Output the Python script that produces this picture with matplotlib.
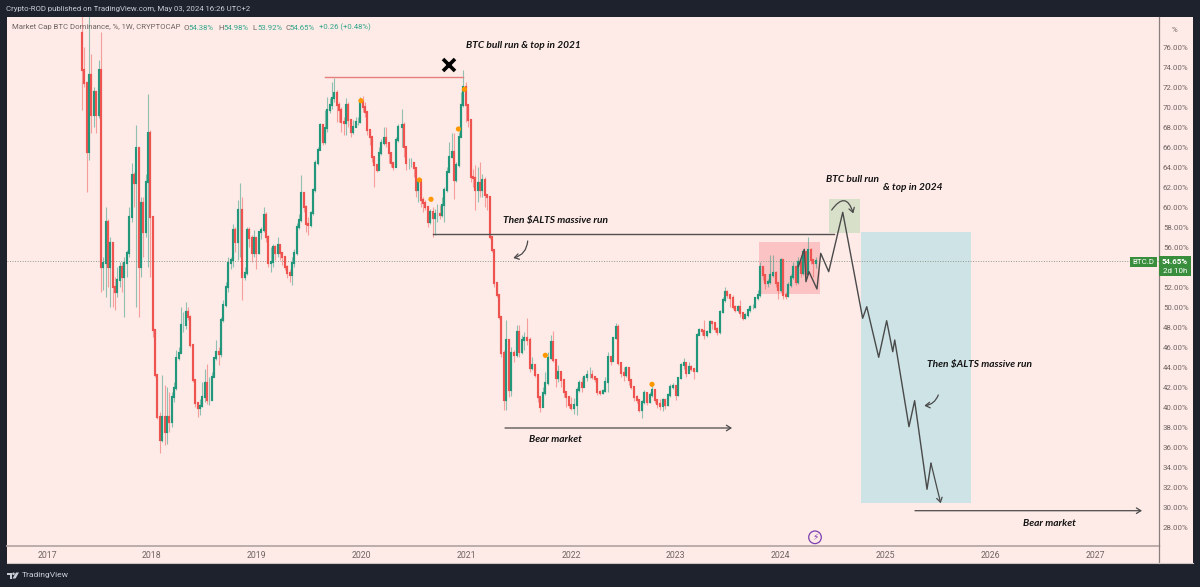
"""
BTC dominance weekly chart with the projected path, drawn like the TradingView snapshot.
Candle values are read off the picture by eye, in percent.
"""

import numpy as np
import matplotlib
matplotlib.use('Agg')
import matplotlib.pyplot as plt
from matplotlib.patches import Rectangle, Polygon, Circle

W, H = 1200, 587

# weekly candles; each open is the previous close
FIRST_OPEN = 77.4
closes = [
    73.7, 72.4, 65.5, 73.2, 69.2, 71.5, 69.2, 73.7, 54.0, 54.4,
    58.5, 54.0, 56.4, 52.0, 51.5, 52.7, 54.0, 53.0, 54.4, 55.4,
    59.0, 63.2, 62.4, 65.9, 54.0, 60.4, 57.5, 62.5, 67.4, 59.0,
    47.7, 43.2, 39.0, 36.7, 39.0, 37.5, 39.0, 38.5, 41.0, 41.9,
    44.9, 45.4, 48.2, 48.2, 49.5, 49.0, 46.2, 42.7, 40.4, 39.9,
    40.1, 41.0, 42.4, 40.7, 40.7, 43.0, 44.9, 45.5, 45.3, 48.7,
    50.2, 52.0, 54.4, 54.7, 57.7, 56.5, 59.7, 59.7, 53.0, 53.4,
    57.7, 56.9, 55.4, 56.9, 55.4, 57.5, 57.7, 59.2, 57.0, 54.4,
    54.5, 56.0, 55.4, 56.2, 55.4, 55.0, 54.0, 53.4, 53.2, 54.4,
    55.4, 58.0, 58.7, 61.4, 60.0, 58.3, 58.2, 59.4, 61.7, 64.4,
    65.7, 68.2, 66.5, 67.9, 69.7, 70.2, 70.9, 71.4, 70.2, 69.7,
    68.5, 68.4, 70.2, 68.7, 67.5, 68.0, 68.5, 68.5, 70.5, 70.0,
    69.5, 67.7, 67.0, 65.0, 64.2, 63.7, 65.4, 66.4, 66.9, 66.4,
    65.4, 64.4, 64.0, 66.7, 68.0, 68.2, 66.0, 64.4, 64.4, 64.4,
    63.9, 61.7, 62.7, 60.7, 60.4, 60.0, 58.5, 59.5, 58.9, 59.3,
    59.3, 59.2, 60.2, 61.7, 63.5, 65.0, 65.5, 62.7, 64.2, 67.0,
    70.2, 72.0, 70.2, 68.7, 63.0, 62.9, 61.7, 62.4, 61.7, 62.7,
    61.2, 61.0, 57.0, 55.7, 52.4, 51.2, 49.0, 45.4, 40.7, 46.7,
    41.7, 45.4, 45.2, 47.5, 45.5, 46.7, 46.9, 46.7, 43.9, 44.2,
    43.2, 41.0, 40.0, 41.4, 42.4, 44.9, 46.5, 44.7, 42.9, 43.5,
    42.7, 41.5, 41.0, 40.2, 39.9, 40.2, 41.7, 42.4, 42.0, 43.0,
    43.2, 43.2, 43.0, 42.8, 41.5, 41.4, 41.6, 42.5, 45.0, 44.6,
    46.9, 48.0, 44.4, 43.4, 43.2, 43.9, 42.7, 42.0, 41.0, 40.7,
    39.7, 40.5, 41.4, 40.5, 41.2, 41.7, 40.7, 40.3, 40.1, 40.7,
    40.2, 41.2, 42.0, 42.1, 41.2, 42.9, 44.2, 44.4, 43.4, 44.0,
    43.8, 43.6, 47.2, 47.7, 47.6, 47.2, 47.5, 48.5, 48.4, 47.8,
    47.5, 49.5, 50.7, 51.5, 51.2, 50.9, 50.0, 49.7, 50.0, 49.4,
    48.9, 49.2, 49.7, 50.0, 50.0, 50.9, 51.2, 54.0, 53.2, 52.4,
    52.5, 53.2, 53.4, 52.4, 51.7, 54.7, 51.2, 51.1, 52.2, 53.0,
    54.0, 52.5, 54.5, 53.4, 55.5, 53.3, 55.7, 54.7, 54.38, 54.65,
]
highs = [
    80.7, 76.0, 72.4, 80.7, 75.3, 72.0, 71.5, 74.7, 77.5, 55.0,
    60.0, 58.8, 57.0, 56.5, 53.0, 54.0, 54.5, 54.5, 55.0, 55.7,
    60.0, 64.4, 63.5, 68.2, 66.0, 61.0, 61.0, 63.3, 71.3, 67.7,
    59.0, 47.7, 43.2, 39.5, 43.2, 42.2, 42.0, 41.5, 41.5, 42.5,
    45.7, 46.0, 50.0, 49.5, 50.5, 50.0, 49.2, 46.2, 42.7, 40.5,
    40.8, 42.5, 43.8, 44.3, 43.0, 43.5, 45.0, 46.7, 46.0, 49.0,
    50.7, 52.5, 55.0, 55.0, 58.3, 58.0, 60.7, 62.4, 61.0, 54.0,
    58.0, 58.0, 57.2, 57.7, 57.0, 57.5, 58.0, 60.0, 59.5, 57.2,
    56.0, 56.3, 56.2, 57.0, 56.2, 55.5, 55.0, 54.2, 53.8, 55.0,
    55.8, 58.4, 59.3, 63.2, 61.5, 60.2, 59.0, 59.6, 61.9, 64.7,
    66.0, 68.4, 68.0, 69.7, 71.0, 70.9, 72.5, 72.9, 71.7, 70.5,
    70.0, 69.0, 70.9, 70.5, 68.7, 68.7, 69.0, 69.0, 71.0, 71.1,
    70.5, 69.5, 67.7, 67.0, 65.0, 64.2, 66.0, 66.8, 68.0, 68.0,
    66.4, 65.5, 64.4, 67.0, 68.3, 69.8, 68.5, 65.0, 64.9, 64.9,
    64.5, 64.0, 62.9, 62.4, 61.0, 60.7, 60.0, 59.8, 60.0, 59.8,
    60.3, 60.2, 61.0, 62.0, 64.0, 66.5, 67.4, 67.4, 64.5, 67.5,
    71.5, 73.7, 72.5, 70.2, 68.7, 63.8, 64.2, 64.0, 64.5, 63.3,
    63.0, 61.2, 61.0, 57.0, 55.7, 52.4, 51.2, 49.0, 45.7, 48.7,
    46.7, 46.0, 45.7, 48.2, 48.2, 47.2, 47.5, 48.9, 47.0, 45.0,
    44.2, 43.2, 41.0, 42.0, 43.5, 45.5, 47.2, 47.6, 44.7, 44.2,
    43.5, 42.7, 41.5, 41.0, 41.0, 40.9, 42.0, 42.7, 43.0, 43.2,
    43.7, 44.0, 43.7, 43.0, 42.9, 41.7, 41.8, 43.0, 45.5, 45.1,
    47.0, 48.4, 48.3, 44.4, 44.0, 44.1, 43.9, 42.7, 42.0, 41.2,
    40.7, 40.7, 41.7, 41.5, 41.5, 42.2, 41.8, 40.8, 40.8, 40.9,
    40.8, 41.4, 42.3, 42.4, 42.2, 43.0, 44.4, 44.9, 44.4, 44.5,
    44.2, 43.9, 47.4, 47.9, 47.8, 48.7, 47.7, 48.7, 48.6, 48.4,
    48.0, 49.7, 51.0, 52.0, 51.7, 51.2, 51.2, 50.2, 50.2, 50.7,
    49.5, 49.4, 49.9, 50.2, 50.3, 51.0, 51.7, 54.5, 54.0, 53.2,
    52.8, 55.2, 55.2, 53.6, 52.4, 54.9, 54.7, 51.5, 52.5, 53.3,
    54.5, 54.0, 55.0, 55.2, 55.8, 55.5, 57.0, 55.9, 54.7, 54.98,
]
lows = [
    69.7, 72.0, 61.5, 64.7, 67.4, 68.0, 67.4, 68.9, 51.5, 51.7,
    51.0, 52.0, 50.0, 50.0, 49.7, 51.0, 52.0, 51.5, 49.0, 53.0,
    55.0, 58.5, 60.0, 50.0, 49.0, 53.0, 55.0, 57.0, 54.0, 53.0,
    47.0, 43.0, 38.8, 35.4, 36.5, 36.2, 36.3, 37.5, 38.0, 40.5,
    41.7, 44.7, 45.5, 47.5, 47.8, 48.7, 46.0, 42.5, 40.0, 39.0,
    39.2, 40.0, 40.5, 40.3, 40.2, 40.7, 43.0, 44.7, 44.2, 45.0,
    48.5, 50.0, 51.5, 53.8, 54.0, 55.5, 54.7, 55.0, 50.7, 52.7,
    53.2, 56.0, 54.5, 55.0, 53.8, 55.3, 56.8, 57.5, 56.5, 54.0,
    53.5, 54.0, 54.7, 55.0, 54.7, 54.2, 53.7, 52.9, 52.5, 52.2,
    54.0, 55.2, 57.8, 58.5, 59.5, 57.5, 57.2, 58.0, 59.2, 61.5,
    64.2, 66.4, 66.2, 66.3, 67.5, 69.4, 69.8, 70.5, 68.5, 68.5,
    67.5, 67.2, 67.2, 68.0, 67.0, 67.3, 68.0, 68.2, 68.4, 69.5,
    69.0, 67.2, 66.2, 64.5, 62.0, 63.5, 63.8, 65.2, 66.2, 66.0,
    64.4, 64.0, 63.7, 64.0, 66.5, 66.0, 65.0, 63.7, 63.8, 64.0,
    63.0, 61.0, 60.5, 60.0, 59.5, 59.7, 58.0, 58.3, 57.0, 57.2,
    58.5, 58.8, 59.0, 58.5, 61.5, 63.5, 64.9, 60.8, 62.5, 64.0,
    67.0, 70.0, 68.5, 68.0, 62.5, 62.0, 59.7, 60.5, 61.0, 61.0,
    60.0, 59.7, 56.8, 55.5, 52.0, 51.0, 48.8, 45.0, 39.7, 39.7,
    41.0, 41.1, 44.5, 45.0, 45.0, 45.3, 45.7, 46.2, 43.5, 43.7,
    43.0, 40.5, 39.5, 40.0, 41.2, 42.2, 44.8, 44.5, 42.0, 42.5,
    42.0, 41.0, 40.0, 39.9, 39.7, 39.3, 39.2, 41.5, 41.5, 42.0,
    42.6, 42.9, 42.8, 42.5, 41.2, 41.2, 41.3, 41.5, 41.5, 44.2,
    44.9, 46.8, 44.2, 43.0, 42.6, 43.0, 42.2, 41.8, 40.6, 40.4,
    39.5, 38.9, 40.3, 40.2, 40.4, 41.0, 40.4, 39.9, 39.7, 39.6,
    39.8, 40.1, 41.0, 41.8, 40.7, 41.1, 42.8, 43.8, 43.0, 43.4,
    43.6, 42.8, 43.5, 47.2, 47.2, 46.8, 47.0, 47.4, 47.8, 47.5,
    47.2, 47.3, 49.4, 50.5, 50.9, 50.0, 49.8, 49.5, 49.5, 49.0,
    48.7, 48.8, 49.0, 49.5, 49.8, 49.9, 50.7, 51.0, 52.7, 51.8,
    52.0, 52.3, 53.0, 52.0, 50.8, 51.5, 50.8, 50.8, 51.0, 52.0,
    52.8, 52.2, 52.3, 53.0, 53.2, 53.0, 53.5, 54.3, 53.0, 53.92,
]
# candle index -> date anchors
anchor_idx = [0, 134, 135, 176, 177, 262, 263, 299]
anchor_date = [2017.334, 2020.349, 2020.385, 2021.313, 2021.332, 2023.447, 2023.469, 2024.338]

# projected path drawn by the author
path_dates = [2024.169, 2024.226, 2024.242, 2024.271, 2024.347, 2024.383, 2024.459, 2024.593,
              2024.783, 2024.822, 2024.936, 2025.012, 2025.070, 2025.089, 2025.225, 2025.279,
              2025.397, 2025.435, 2025.528]
path_values = [54.03, 55.77, 52.53, 53.53, 51.8, 55.37, 53.53, 59.47, 48.87, 50.03, 44.97,
               48.63, 45.53, 46.7, 38.03, 40.63, 31.77, 34.37, 30.37]

dot_dates = [2019.996, 2020.983, 2020.926, 2020.553, 2020.664, 2021.755, 2022.773]
dot_values = [70.63, 71.77, 67.8, 62.7, 60.77, 45.17, 42.27]

year_ticks = list(range(2017, 2028))
price_ticks = list(range(28, 78, 2))
last_price = 54.65

BG = '#feebe7'
DARK = '#1e222d'
GREEN = '#22977c'
RED = '#ef5350'
AXIS_GREY = '#b5a8a5'
LABEL = '#6f6462'
HEADER = '#c9cdd6'
TAG = '#388e3c'
PEN = '#4a4a4a'
SMALL = 5.7

plt.rcParams['font.family'] = ['Roboto', 'DejaVu Sans']


def fx(x):
    return x / W


def fy(y):
    return 1 - y / H


def date_of(x):
    return 2017 + (x - 47) / 104.8


def price_of(y):
    return 80.7 - y / 10


def pen_text(ax, x, y, s):
    # handwritten notes, x/y are date/price
    ax.text(x, y, s, family='Lato', style='italic', weight='bold', fontsize=7.3, color='#111111',
            va='center', ha='left', parse_math=False, zorder=8)


fig = plt.figure(figsize=(W / 100, H / 100), dpi=100, facecolor=DARK)

# chart panel with the two axis strips
fig.add_artist(Rectangle((fx(7), fy(563)), fx(1186), (563 - 17) / H, transform=fig.transFigure,
                         facecolor=BG, edgecolor='none', zorder=-2))
ax = fig.add_axes([fx(7), fy(545.5), fx(1151.5), (545.5 - 17) / H], facecolor=BG)
ax.set_xlim(date_of(7), date_of(1158.5))
ax.set_ylim(price_of(545.5), price_of(17))

for side in ['top', 'left']:
    ax.spines[side].set_visible(False)
ax.spines['bottom'].set_color(AXIS_GREY)
ax.spines['bottom'].set_linewidth(1.3)
ax.spines['right'].set_color('#8a7f7d')
ax.spines['right'].set_linewidth(0.9)

ax.set_xticks(year_ticks)
ax.set_xticklabels([str(y) for y in year_ticks], fontsize=6.3, color=LABEL)
ax.yaxis.tick_right()
ax.set_yticks(price_ticks)
ax.set_yticklabels([f'{p}.00%' for p in price_ticks], fontsize=SMALL, color=LABEL)
ax.tick_params(axis='both', length=0)
ax.tick_params(axis='x', pad=4)
ax.tick_params(axis='y', pad=3.2)

# rest of the right axis line through the time strip
fig.add_artist(plt.Line2D([fx(1158.5), fx(1158.5)], [fy(545), fy(563)], color='#8a7f7d', lw=0.9))
fig.add_artist(plt.Line2D([fx(7), fx(1193)], [fy(563), fy(563)], color='#cfc4c1', lw=0.8))

# boxes drawn on the chart
ax.add_patch(Rectangle((date_of(759.5), price_of(294.3)), date_of(820) - date_of(759.5), 5.23,
                       facecolor='#f23645', alpha=0.22, edgecolor='none', zorder=1))
ax.add_patch(Rectangle((date_of(829), price_of(232.7)), date_of(859.7) - date_of(829), 3.37,
                       facecolor='#d9e0c9', edgecolor='none', zorder=1))
ax.add_patch(Rectangle((date_of(861), price_of(502.7)), date_of(970.7) - date_of(861), 27.07,
                       facecolor='#cde3e6', edgecolor='none', zorder=1))

ax.axhline(last_price, color='#8f9a8c', lw=0.7, ls=(0, (1, 1.6)), zorder=2)

# candles
c = np.array(closes)
o = np.concatenate([[FIRST_OPEN], c[:-1]])
dates = np.interp(np.arange(len(c)), anchor_idx, anchor_date)
colours = [GREEN if cl >= op else RED for op, cl in zip(o, c)]
ax.vlines(dates, lows, highs, colors=colours, linewidth=0.8, alpha=0.5, zorder=3)
ax.vlines(dates, o, c, colors=colours, linewidth=1.55, capstyle='projecting', zorder=4)

ax.scatter(dot_dates, dot_values, s=14, color='#ff9800', edgecolors='none', zorder=5)

# horizontal levels
ax.plot([date_of(325), date_of(463)], [73.0, 73.0], color='#e57f7f', lw=1.0, zorder=5)
ax.plot([date_of(433), date_of(834)], [57.27, 57.27], color='#555050', lw=1.0, zorder=5)

ax.plot(path_dates[:-1], path_values[:-1], color=PEN, lw=1.0, zorder=6)
arrow = dict(arrowstyle='->,head_length=0.32,head_width=0.2', color=PEN, lw=0.9, shrinkA=0, shrinkB=0)
ax.annotate('', xy=(path_dates[-1], path_values[-1]), xytext=(path_dates[-2], path_values[-2]),
            arrowprops=arrow, zorder=6)
ax.annotate('', xy=(date_of(732), price_of(428)), xytext=(date_of(505), price_of(428)), arrowprops=arrow, zorder=6)
ax.annotate('', xy=(date_of(1142), price_of(510.7)), xytext=(date_of(915), price_of(510.7)), arrowprops=arrow, zorder=6)
ax.annotate('', xy=(date_of(513.3), price_of(258)), xytext=(date_of(527.7), price_of(241)),
            arrowprops=dict(arrow, connectionstyle='arc3,rad=-0.35'), zorder=6)
ax.annotate('', xy=(date_of(924.3), price_of(405.7)), xytext=(date_of(938.3), price_of(395)),
            arrowprops=dict(arrow, connectionstyle='arc3,rad=-0.3'), zorder=6)
ax.annotate('', xy=(date_of(853.3), price_of(213.5)), xytext=(date_of(831.7), price_of(210)),
            arrowprops=dict(arrow, connectionstyle='arc3,rad=-1.0'), zorder=6)

ax.plot([date_of(449)], [price_of(65.5)], marker='x', ms=8.2, mew=2.6, color='black', zorder=7)

pen_text(ax, date_of(466), price_of(46), 'BTC bull run & top in 2021')
pen_text(ax, date_of(503), price_of(221), 'Then $ALTS massive run')
pen_text(ax, date_of(826), price_of(179), 'BTC bull run')
pen_text(ax, date_of(883), price_of(187), '& top in 2024')
pen_text(ax, date_of(529), price_of(440), 'Bear market')
pen_text(ax, date_of(927), price_of(365), 'Then $ALTS massive run')
pen_text(ax, date_of(1023), price_of(523), 'Bear market')

# price tags
fig.add_artist(Rectangle((fx(1130), fy(266.7)), fx(27), 10 / H, facecolor=TAG, edgecolor='none'))
fig.add_artist(Rectangle((fx(1158.5), fy(276)), fx(32.5), 20 / H, facecolor=TAG, edgecolor='none'))
fig.text(fx(1143.5), fy(261.7), 'BTC.D', color='white', fontsize=SMALL, ha='center', va='center')
fig.text(fx(1174.7), fy(261), f'{last_price}%', color='white', fontsize=SMALL, weight='bold', ha='center', va='center')
fig.text(fx(1174.7), fy(271), '2d 10h', color='white', fontsize=SMALL, ha='center', va='center')
fig.text(fx(1172), fy(30), '%', color=LABEL, fontsize=SMALL, ha='left', va='center')

# lightning badge
fig.add_artist(Circle((815, H - 537.3), 6.3, transform=None, facecolor=BG, edgecolor='#7b3fb0', lw=0.9))
fig.text(fx(815), fy(537.3), '\u26a1', color='#7b3fb0', fontsize=6.5, family='DejaVu Sans', ha='center', va='center')

# header, legend and footer
fig.text(fx(6), fy(9.5), 'Crypto-ROD published on TradingView.com, May 03, 2024 16:26 UTC+2',
         color=HEADER, fontsize=5.6, ha='left', va='center')
fig.text(fx(12), fy(27.5), 'Market Cap BTC Dominance, %, 1W, CRYPTOCAP', color=LABEL, fontsize=5.6, ha='left', va='center')
for x, head, val in [(184, 'O', '54.38%'), (218.5, 'H', '54.98%'), (252.5, 'L', '53.92%'), (285, 'C', '54.65%')]:
    fig.text(fx(x), fy(27.5), head, color=LABEL, fontsize=5.6, ha='left', va='center')
    fig.text(fx(x + 4.5), fy(27.5), val, color='#35a58c', fontsize=5.6, ha='left', va='center')
fig.text(fx(319), fy(27.5), '+0.26 (+0.48%)', color='#35a58c', fontsize=5.6, ha='left', va='center')

fig.add_artist(Polygon([(6.5, H - 572.5), (12, H - 572.5), (12, H - 578.5), (9.5, H - 578.5), (9.5, H - 575), (6.5, H - 575)],
                       transform=None, facecolor=HEADER, edgecolor='none'))
fig.add_artist(Circle((13.5, H - 573.8), 1.3, transform=None, facecolor=HEADER, edgecolor='none'))
fig.add_artist(Polygon([(16, H - 572.5), (19, H - 572.5), (15.5, H - 578.5), (12.5, H - 578.5)],
                       transform=None, facecolor=HEADER, edgecolor='none'))
fig.text(fx(22), fy(575.5), 'TradingView', color=HEADER, fontsize=6.1, ha='left', va='center')

fig.savefig('out.png', dpi=100, facecolor=fig.get_facecolor())
plt.close(fig)
